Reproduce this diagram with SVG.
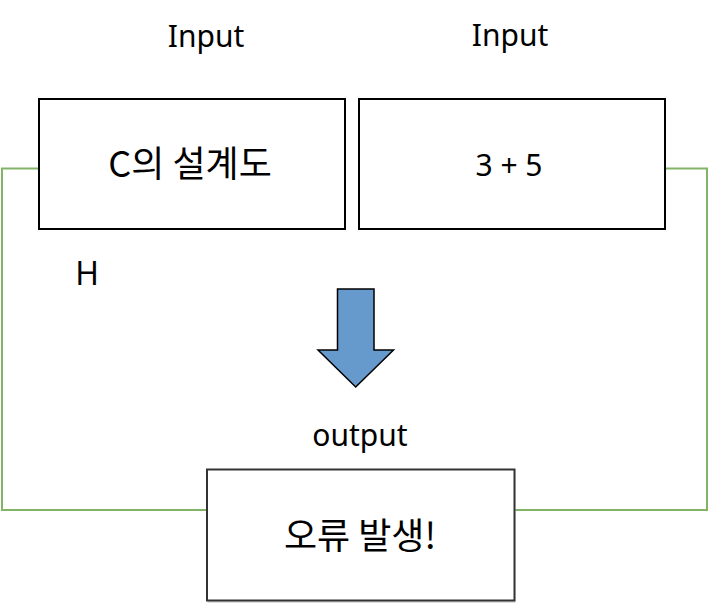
<svg xmlns="http://www.w3.org/2000/svg" width="708" height="606" viewBox="0 0 708 606">
<style>
.box{fill:#ffffff;stroke:#000000;stroke-width:2}
.lbl{font-family:"Noto Sans","Noto Sans CJK KR",sans-serif;fill:#000000;text-anchor:middle}
.kr{font-family:"Noto Sans CJK KR","Noto Sans",sans-serif;fill:#000000;text-anchor:middle}
.conn{fill:none;stroke:#82b366;stroke-width:2}
</style>
<rect width="708" height="606" fill="#ffffff"/>
<g id="connectors">
<polyline class="conn" points="39,168.5 2,168.5 2,510 207,510"/>
<polyline class="conn" points="665,168.5 707,168.5 707,510 515,510"/>
</g>
<g id="label-input-left"><text class="lbl" x="206" y="47" font-size="30">Input</text></g>
<g id="label-input-right"><text class="lbl" x="510" y="46" font-size="30">Input</text></g>
<g id="node-design">
<rect class="box" x="39" y="99" width="306" height="130"/>
<text class="kr" x="190" y="177" font-size="36">C의 설계도</text>
</g>
<g id="node-expr">
<rect class="box" x="359" y="99" width="306" height="130"/>
<text class="lbl" x="509" y="175.5" font-size="30">3 + 5</text>
</g>
<g id="label-h"><text class="lbl" x="87" y="284.5" font-size="32">H</text></g>
<g id="arrow">
<polygon points="337.5,289 374,289 374,350 393.5,350 355.7,387 318,350 337.5,350" fill="#6699cc" stroke="#000000" stroke-width="1.5" stroke-linejoin="miter"/>
</g>
<g id="label-output"><text class="lbl" x="360" y="446" font-size="30">output</text></g>
<g id="node-error">
<rect x="208.5" y="471" width="306" height="131" fill="none" stroke="#dddddd" stroke-width="2"/>
<rect x="207" y="469.5" width="307.5" height="131" fill="#ffffff" stroke="#333333" stroke-width="2"/>
<text class="kr" x="360" y="549" font-size="36">오류 발생!</text>
</g>
</svg>
